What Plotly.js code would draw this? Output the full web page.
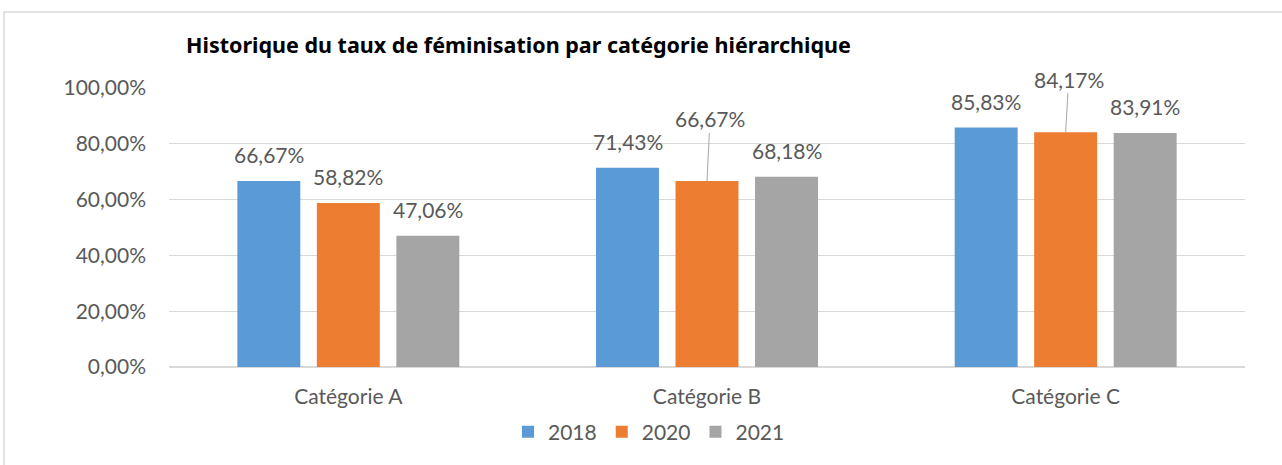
<!DOCTYPE html>
<html>
<head>
<meta charset="utf-8">
<script src="https://cdn.plot.ly/plotly-3.0.1.min.js"></script>
<style>html,body{margin:0;padding:0;background:#fff}#chart{width:1282px;height:465px}</style>
</head>
<body>
<div id="chart"></div>
<script>
const categories = ['Catégorie A', 'Catégorie B', 'Catégorie C'];
const seriesNames = ['2018', '2020', '2021'];
const values2018 = [66.67, 71.43, 85.83];
const values2020 = [58.82, 66.67, 84.17];
const values2021 = [47.06, 68.18, 83.91];
const yTicks = [0, 20, 40, 60, 80, 100];
const titleText = 'Historique du taux de féminisation par catégorie hiérarchique';

const colors = ['#5B9BD5', '#ED7D31', '#A5A5A5'];
const allValues = [values2018, values2020, values2021];
const FONT = 'Lato, "Open Sans", sans-serif';
const TXT = '#595959';
const bargap = 0.335, bargroupgap = 0.208;
const slot = (1 - bargap) / 3;

function fmt(v) { return v.toFixed(2).replace('.', ',') + '%'; }

const traces = allValues.map((vals, k) => ({
  type: 'bar', name: seriesNames[k], x: categories, y: vals,
  marker: {color: colors[k]}, hoverinfo: 'skip'
}));

// leader-line labels keyed by series-category
const leader = {'1-1': [3, -62], '1-2': [3, -53]};
const annotations = [];
allValues.forEach((vals, k) => {
  vals.forEach((v, i) => {
    const key = k + '-' + i;
    const base = {xref: 'x', yref: 'y', x: i + (k - 1) * slot, y: v, text: fmt(v),
      font: {family: FONT, size: 21, color: TXT}};
    if (leader[key]) {
      annotations.push(Object.assign(base, {showarrow: true, arrowhead: 0, arrowwidth: 1,
        arrowcolor: '#A6A6A6', ax: leader[key][0], ay: leader[key][1], standoff: 0}));
    } else {
      annotations.push(Object.assign(base, {showarrow: false, yanchor: 'middle', yshift: 26}));
    }
  });
});

const layout = {
  width: 1282, height: 465,
  paper_bgcolor: '#fff', plot_bgcolor: '#fff',
  margin: {l: 169, r: 37, t: 88, b: 94},
  font: {family: FONT, color: TXT, size: 21},
  title: {text: '<b>' + titleText + '</b>', font: {family: '"Noto Sans", "Open Sans", sans-serif', size: 21.5, color: '#000'},
    xref: 'container', yref: 'container', x: 186 / 1282, xanchor: 'left', y: 1 - 45 / 465, yanchor: 'middle'},
  barmode: 'group', bargap: bargap, bargroupgap: bargroupgap,
  xaxis: {type: 'category', showgrid: false, zeroline: false, showline: false,
    tickfont: {family: FONT, size: 21, color: TXT}, ticks: '', ticklabelstandoff: 15, fixedrange: true},
  yaxis: {range: [0, 100], tickmode: 'array', tickvals: yTicks, ticktext: yTicks.map(fmt),
    showgrid: true, gridcolor: '#D9D9D9', gridwidth: 1.3, zeroline: true, zerolinecolor: '#D9D9D9', zerolinewidth: 1.3,
    showline: false, ticks: '', ticklabelstandoff: 22, tickfont: {family: FONT, size: 21, color: TXT}, fixedrange: true},
  showlegend: true,
  legend: {orientation: 'h', xref: 'paper', x: (649 - 169) / 1076, xanchor: 'center', yref: 'paper', y: -0.16, yanchor: 'top',
    font: {family: FONT, size: 21, color: TXT}, itemclick: false, itemdoubleclick: false},
  annotations: annotations,
  shapes: [{type: 'rect', xref: 'paper', yref: 'paper',
    x0: (4 - 169) / 1076, x1: (1300 - 169) / 1076, y0: (371 - 480) / 283, y1: (371 - 11) / 283,
    line: {color: '#D9D9D9', width: 1.5}, fillcolor: 'rgba(0,0,0,0)', layer: 'below'}]
};

Plotly.newPlot('chart', traces, layout, {displayModeBar: false, staticPlot: true});
</script>
</body>
</html>
